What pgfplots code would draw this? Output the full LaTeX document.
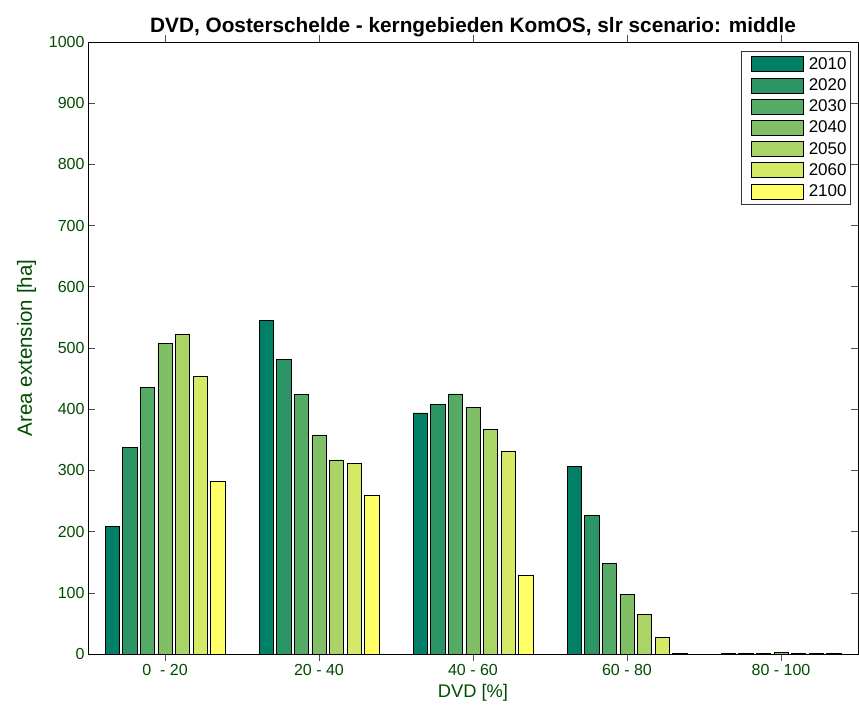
\documentclass[border=0pt]{standalone}
\usepackage{pgfplots}
\pgfplotsset{compat=1.18}
\usepackage{fontspec}
\setmainfont{Liberation Sans}
\definecolor{c1}{rgb}{0,0.5,0.4}
\definecolor{c2}{rgb}{0.167,0.583,0.4}
\definecolor{c3}{rgb}{0.333,0.667,0.4}
\definecolor{c4}{rgb}{0.5,0.75,0.4}
\definecolor{c5}{rgb}{0.667,0.833,0.4}
\definecolor{c6}{rgb}{0.833,0.917,0.4}
\definecolor{c7}{rgb}{1,1,0.4}
\definecolor{lab}{rgb}{0,0.3,0}
\begin{document}
\begin{tikzpicture}
\begin{axis}[
 scale only axis, width=770pt, height=612pt,
 xmin=0.5, xmax=5.5, ymin=0, ymax=1000,
 xtick={1,2,3,4,5},
 xticklabels={0\ \ - 20, 20 - 40, 40 - 60, 60 - 80, 80 - 100},
 ytick={0,100,...,1000},
 tick align=inside, major tick length=7pt,
 tick style={black!70, line width=0.6pt},
 axis line style={black, line width=0.8pt},
 ticklabel style={font=\fontsize{16}{19}\selectfont, text=lab},
 /pgf/number format/assume math mode=true,
 /pgf/number format/1000 sep={},
 xlabel={DVD [\%]}, ylabel={Area extension [ha]},
 xlabel style={font=\fontsize{18.3}{22}\selectfont, text=lab, yshift=-2pt},
 ylabel style={font=\fontsize{20.5}{24}\selectfont, text=lab, yshift=6pt},
 title={DVD, Oosterschelde - kerngebieden KomOS, slr scenario: middle},
 title style={font=\bfseries\fontsize{20.8}{24}\selectfont, yshift=-4pt},
 ybar, bar width=0.092,
 every axis plot/.append style={draw=black, line width=0.6pt},
 legend style={at={(1,1)}, xshift=-7pt, yshift=-9pt, anchor=north east,
   draw=black!80, line width=0.8pt, font=\fontsize{17}{20}\selectfont,
   row sep=5.6pt, inner xsep=4pt, inner ysep=5pt,
   nodes={inner sep=0pt},
   /tikz/every odd column/.append style={column sep=5pt}},
 legend cell align=left,
 legend image code/.code={\path (-6pt,0pt); \draw[#1] (0pt,-7.5pt) rectangle (52pt,7.5pt);},
]
\addplot[fill=c1, bar shift=-0.342857] coordinates {(1,208) (2,545) (3,394) (4,307) (5,1)};
\addplot[fill=c2, bar shift=-0.228571] coordinates {(1,338) (2,481) (3,408) (4,226) (5,1)};
\addplot[fill=c3, bar shift=-0.114286] coordinates {(1,435) (2,424) (3,425) (4,148) (5,1)};
\addplot[fill=c4, bar shift=0] coordinates {(1,507) (2,358) (3,403) (4,97) (5,2)};
\addplot[fill=c5, bar shift=0.114286] coordinates {(1,523) (2,317) (3,367) (4,65) (5,1)};
\addplot[fill=c6, bar shift=0.228571] coordinates {(1,454) (2,312) (3,332) (4,27) (5,1)};
\addplot[fill=c7, bar shift=0.342857] coordinates {(1,282) (2,259) (3,128) (4,1) (5,1)};
\legend{2010,2020,2030,2040,2050,2060,2100}
\end{axis}
\pgfresetboundingbox
\path ([shift={(-88pt,-53pt)}]current axis.south west) rectangle ([shift={(1pt,42pt)}]current axis.north east);
\end{tikzpicture}
\end{document}
